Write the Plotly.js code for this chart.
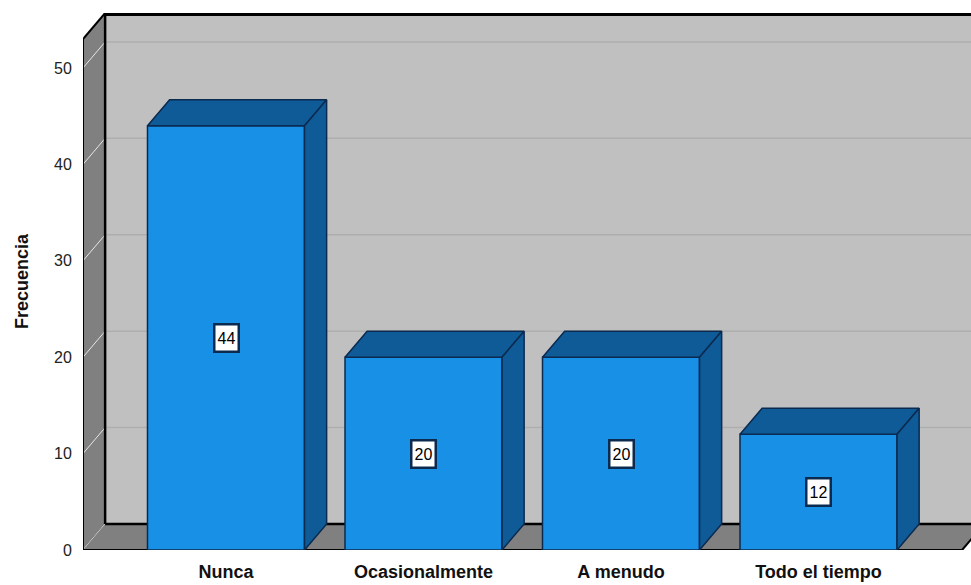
<!DOCTYPE html>
<html>
<head>
<meta charset="utf-8">
<script src="https://cdn.plot.ly/plotly-3.0.1.min.js"></script>
<style>
  html, body { margin: 0; padding: 0; background: #ffffff; }
  #chart { width: 971px; height: 585px; }
</style>
</head>
<body>
<div id="chart"></div>
<script>
// Frequency counts per answer category
const categories = ['Nunca', 'Ocasionalmente', 'A menudo', 'Todo el tiempo'];
const counts = [44, 20, 20, 12];
const yTickValues = [0, 10, 20, 30, 40, 50];
const yTickLabels = ['0', '10', '20', '30', '40', '50'];

// Pseudo-3D geometry (in axis units)
const BAR_W = 0.795;        // bar width, fraction of a category slot
const DX = 0.112;           // depth offset along x
const DY = 2.7;             // depth offset along y
const X_MIN = -0.724;       // left edge of the front plane
const X_MAX = 3.772;        // right edge of the plotting area
const FLOOR_RIGHT = 3.727;  // right edge of the front floor
const Y_MAX = 55.7;         // top of the back wall
const WALL_TOP = Y_MAX - DY;

// Colours
const FRONT = '#1790e5';
const DARK = '#0f5b97';
const EDGE = '#0b2a50';
const WALL = '#c0c0c0';
const SIDE_WALL = '#808080';
const FONT = 'Liberation Sans, Arial, sans-serif';

const xs = counts.map((_, i) => i);

// Top faces and right-hand side faces of every bar, built from the counts
const topX = [], topY = [], sideX = [], sideY = [];
counts.forEach((v, i) => {
  const l = i - BAR_W / 2, r = i + BAR_W / 2;
  topX.push(l, r, r + DX, l + DX, l, null);
  topY.push(v, v, v + DY, v + DY, v, null);
  sideX.push(r, r + DX, r + DX, r, r, null);
  sideY.push(0, DY, v + DY, v, 0, null);
});

const traces = [
  {
    type: 'bar',
    x: xs,
    y: counts,
    width: BAR_W,
    marker: { color: FRONT, line: { color: EDGE, width: 1.5 } },
    hoverinfo: 'skip',
    showlegend: false
  },
  {
    type: 'scatter', mode: 'lines',
    x: topX, y: topY,
    fill: 'toself', fillcolor: DARK,
    line: { color: EDGE, width: 1.5 },
    hoverinfo: 'skip', showlegend: false
  },
  {
    type: 'scatter', mode: 'lines',
    x: sideX, y: sideY,
    fill: 'toself', fillcolor: DARK,
    line: { color: EDGE, width: 1.5 },
    hoverinfo: 'skip', showlegend: false
  }
];

// Chart box: back wall, left wall, floor and their grid lines
const shapes = [];
const poly = (pts) => 'M' + pts.map(p => p[0] + ',' + p[1]).join('L') + 'Z';

// back wall
shapes.push({ type: 'rect', xref: 'x', yref: 'y', layer: 'below',
  x0: X_MIN + DX, x1: X_MAX + 1, y0: DY, y1: Y_MAX + 1,
  fillcolor: WALL, line: { width: 0 } });
// back wall grid lines
yTickValues.slice(1).forEach(v => {
  shapes.push({ type: 'line', xref: 'x', yref: 'y', layer: 'below',
    x0: X_MIN + DX, x1: X_MAX + 1, y0: v + DY, y1: v + DY,
    line: { color: '#aeaeae', width: 1.5 } });
});
// left wall
shapes.push({ type: 'path', xref: 'x', yref: 'y', layer: 'below',
  path: poly([[X_MIN, 0], [X_MIN + DX, DY], [X_MIN + DX, Y_MAX], [X_MIN, WALL_TOP]]),
  fillcolor: SIDE_WALL, line: { width: 0 } });
// left wall grid lines
yTickValues.forEach(v => {
  shapes.push({ type: 'line', xref: 'x', yref: 'y', layer: 'below',
    x0: X_MIN, x1: X_MIN + DX, y0: v, y1: v + DY,
    line: { color: '#e6e6e6', width: 1 } });
});
// floor
shapes.push({ type: 'path', xref: 'x', yref: 'y', layer: 'below',
  path: poly([[X_MIN, 0], [FLOOR_RIGHT, 0], [FLOOR_RIGHT + DX, DY], [X_MIN + DX, DY]]),
  fillcolor: SIDE_WALL, line: { width: 0 } });

// box edges
const edge = (x0, y0, x1, y1, w) => shapes.push({ type: 'line', xref: 'x', yref: 'y', layer: 'below',
  x0, y0, x1, y1, line: { color: '#000000', width: w } });
edge(X_MIN + DX, DY, X_MIN + DX, Y_MAX, 2.5);       // back wall, left edge
edge(X_MIN + DX, DY, X_MAX + 1, DY, 2.5);           // back wall, bottom edge
edge(X_MIN + DX, Y_MAX - 0.15, X_MAX + 1, Y_MAX - 0.15, 3); // back wall, top edge
edge(X_MIN, 0, X_MIN, WALL_TOP, 2);                 // left wall, front edge
edge(X_MIN, WALL_TOP, X_MIN + DX, Y_MAX, 2);        // left wall, top edge
edge(X_MIN, 0, FLOOR_RIGHT, 0, 2);                  // floor, front edge
edge(FLOOR_RIGHT, 0, FLOOR_RIGHT + DX, DY, 2);      // floor, right edge

// Value labels in the middle of each bar
const annotations = counts.map((v, i) => ({
  x: i, y: v / 2, xref: 'x', yref: 'y',
  text: String(v), showarrow: false,
  font: { family: FONT, size: 16, color: '#000000' },
  width: 20, height: 23,
  bgcolor: '#ffffff', bordercolor: EDGE, borderwidth: 2.5, borderpad: 1
}));

const layout = {
  width: 971, height: 585,
  margin: { l: 83, r: 0, t: 13, b: 35 },
  paper_bgcolor: '#ffffff',
  plot_bgcolor: 'rgba(0,0,0,0)',
  font: { family: FONT, color: '#222222' },
  xaxis: {
    range: [X_MIN, X_MAX],
    tickmode: 'array',
    tickvals: xs,
    ticktext: categories,
    tickfont: { family: FONT, size: 18, weight: 'bold', color: '#111111' },
    ticks: 'outside', ticklen: 5, tickcolor: 'rgba(0,0,0,0)',
    showgrid: false, zeroline: false, showline: false, fixedrange: true
  },
  yaxis: {
    range: [0, Y_MAX],
    tickmode: 'array',
    tickvals: yTickValues,
    ticktext: yTickLabels,
    tickfont: { family: FONT, size: 16, color: '#222222' },
    ticks: 'outside', ticklen: 7, tickcolor: 'rgba(0,0,0,0)',
    showgrid: false, zeroline: false, showline: false, fixedrange: true,
    title: { text: 'Frecuencia', font: { family: FONT, size: 18, weight: 'bold', color: '#111111' }, standoff: 20 }
  },
  shapes: shapes,
  annotations: annotations,
  bargap: 0,
  showlegend: false
};

Plotly.newPlot('chart', traces, layout, { displayModeBar: false, staticPlot: true });
</script>
</body>
</html>
